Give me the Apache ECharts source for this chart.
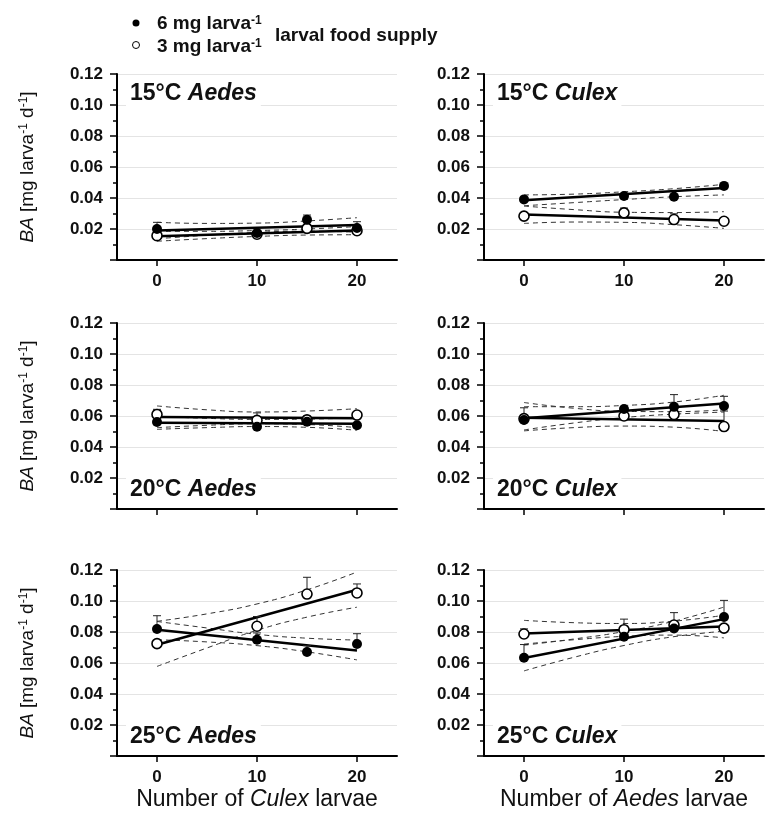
<!DOCTYPE html>
<html>
<head>
<meta charset="utf-8">
<title>BA vs larval density</title>
<script src="https://cdn.jsdelivr.net/npm/echarts@6/dist/echarts.min.js"></script>
<style>
  html, body { margin: 0; padding: 0; background: #fff; }
  #chart { width: 765px; height: 823px; }
</style>
</head>
<body>
<div id="chart"></div>
<script>
// densities where the means were measured, and where fits / bands are drawn
const densities = [0, 10, 15, 20];
const fitX = [0, 20];
const bandX = [0, 5, 10, 15, 20];
const xTicks = [0, 10, 20];

// panel order: 15°C Aedes, 15°C Culex, 20°C Aedes, 20°C Culex, 25°C Aedes, 25°C Culex
const panelTemp = ['15°C', '15°C', '20°C', '20°C', '25°C', '25°C'];
const panelSpecies = ['Aedes', 'Culex', 'Aedes', 'Culex', 'Aedes', 'Culex'];

// 6 mg larva-1 (filled circles)
const mean6 = [
  [0.0200, 0.0174, 0.0260, 0.0207],
  [0.0391, 0.0413, 0.0408, 0.0478],
  [0.0561, 0.0531, 0.0563, 0.0540],
  [0.0574, 0.0645, 0.0659, 0.0664],
  [0.0819, 0.0750, 0.0671, 0.0723],
  [0.0634, 0.0770, 0.0823, 0.0897]
];
const errTop6 = [
  [0.0243, null, 0.0290, 0.0247],
  [null, null, null, null],
  [null, null, 0.0600, null],
  [0.0653, null, 0.0738, 0.0727],
  [0.0905, 0.0794, 0.0712, 0.0789],
  [0.0719, null, null, 0.1004]
];
const fit6 = [
  [0.0190, 0.0226],
  [0.0385, 0.0465],
  [0.0557, 0.0550],
  [0.0585, 0.0680],
  [0.0815, 0.0680],
  [0.0632, 0.0883]
];
const bandHi6 = [
  [0.0243, 0.0236, 0.0238, 0.0252, 0.0273],
  [0.0420, 0.0425, 0.0440, 0.0460, 0.0488],
  [0.0598, 0.0585, 0.0578, 0.0580, 0.0588],
  [0.0660, 0.0660, 0.0668, 0.0690, 0.0734],
  [0.0868, 0.0826, 0.0785, 0.0760, 0.0748],
  [0.0715, 0.0755, 0.0803, 0.0870, 0.0961]
];
const bandLo6 = [
  [0.0137, 0.0160, 0.0178, 0.0186, 0.0179],
  [0.0350, 0.0370, 0.0390, 0.0408, 0.0420],
  [0.0514, 0.0525, 0.0532, 0.0527, 0.0508],
  [0.0510, 0.0555, 0.0590, 0.0612, 0.0625],
  [0.0750, 0.0736, 0.0712, 0.0672, 0.0620],
  [0.0549, 0.0637, 0.0713, 0.0770, 0.0805]
];

// 3 mg larva-1 (open circles)
const mean3 = [
  [0.0157, 0.0166, 0.0204, 0.0189],
  [0.0283, 0.0304, 0.0261, 0.0250],
  [0.0610, 0.0572, 0.0575, 0.0606],
  [0.0583, 0.0600, 0.0610, 0.0532],
  [0.0725, 0.0837, 0.1045, 0.1052],
  [0.0787, 0.0815, 0.0845, 0.0825]
];
const errTop3 = [
  [null, null, null, null],
  [null, 0.0335, 0.0298, null],
  [0.0643, 0.0620, null, null],
  [null, null, null, 0.0632],
  [null, 0.0900, 0.1153, 0.1110],
  [0.0820, 0.0883, 0.0925, null]
];
const fit3 = [
  [0.0153, 0.0190],
  [0.0294, 0.0255],
  [0.0594, 0.0585],
  [0.0589, 0.0568],
  [0.0718, 0.1073],
  [0.0791, 0.0836]
];
const bandHi3 = [
  [0.0185, 0.0185, 0.0190, 0.0200, 0.0216],
  [0.0348, 0.0325, 0.0308, 0.0306, 0.0312],
  [0.0665, 0.0640, 0.0626, 0.0632, 0.0647],
  [0.0687, 0.0650, 0.0630, 0.0628, 0.0640],
  [0.0869, 0.0917, 0.0981, 0.1072, 0.1187],
  [0.0875, 0.0860, 0.0855, 0.0870, 0.0908]
];
const bandLo3 = [
  [0.0121, 0.0138, 0.0152, 0.0161, 0.0163],
  [0.0236, 0.0245, 0.0243, 0.0228, 0.0204],
  [0.0525, 0.0540, 0.0550, 0.0545, 0.0525],
  [0.0504, 0.0525, 0.0535, 0.0528, 0.0500],
  [0.0578, 0.0697, 0.0811, 0.0896, 0.0960],
  [0.0722, 0.0750, 0.0772, 0.0780, 0.0762]
];

const font = "'Liberation Sans', Arial, Helvetica, sans-serif";
const gridLeft = [117, 484];
const gridTop = [74, 323, 570];
const gridW = 280;
const gridH = 186;

function pairs(xs, ys) {
  return xs.map((x, k) => [x, ys[k]]);
}

function errData(means, tops) {
  return densities
    .map((x, k) => (tops[k] == null ? null : [x, means[k], tops[k]]))
    .filter(Boolean);
}

// upward error bar with a small cap
function errorBarItem(params, api) {
  const base = api.coord([api.value(0), api.value(1)]);
  const top = api.coord([api.value(0), api.value(2)]);
  const style = { stroke: '#222', lineWidth: 1 };
  return {
    type: 'group',
    children: [
      { type: 'line', shape: { x1: base[0], y1: base[1], x2: top[0], y2: top[1] }, style: style },
      { type: 'line', shape: { x1: top[0] - 4, y1: top[1], x2: top[0] + 4, y2: top[1] }, style: style }
    ]
  };
}

const grids = [], xAxes = [], yAxes = [], titles = [], series = [];

for (let i = 0; i < 6; i++) {
  const row = Math.floor(i / 2);
  const col = i % 2;
  grids.push({ left: gridLeft[col], top: gridTop[row], width: gridW, height: gridH });

  xAxes.push({
    gridIndex: i,
    type: 'value',
    min: -4,
    max: 24,
    axisLine: { onZero: false, lineStyle: { color: '#000', width: 2 } },
    axisTick: { customValues: xTicks, length: 6, lineStyle: { color: '#000', width: 1.5 } },
    axisLabel: {
      show: row !== 1,
      customValues: xTicks,
      margin: 13,
      fontSize: 17,
      fontWeight: 'bold',
      fontFamily: font,
      color: '#111'
    },
    splitLine: { show: false },
    name: row === 2 ? (col === 0 ? 'Number of {i|Culex} larvae' : 'Number of {i|Aedes} larvae') : '',
    nameLocation: 'middle',
    nameGap: 32,
    nameTextStyle: {
      fontSize: 23,
      fontFamily: font,
      color: '#111',
      rich: { i: { fontSize: 23, fontStyle: 'italic', fontFamily: font, color: '#111' } }
    }
  });

  yAxes.push({
    gridIndex: i,
    type: 'value',
    min: 0,
    max: 0.12,
    interval: 0.02,
    axisLine: { show: true, onZero: false, lineStyle: { color: '#000', width: 2 } },
    axisTick: { show: true, length: 7, lineStyle: { color: '#000', width: 1.5 } },
    minorTick: { show: true, splitNumber: 2, length: 4, lineStyle: { color: '#000', width: 1.5 } },
    axisLabel: {
      margin: 14,
      fontSize: 17,
      fontWeight: 'bold',
      fontFamily: font,
      color: '#111',
      formatter: v => (v === 0 ? '' : v.toFixed(2))
    },
    splitLine: { show: true, lineStyle: { color: '#e4e4e4', width: 1 } },
    name: col === 0 ? '{i|BA} [mg larva{s|-1} d{s|-1}]' : '',
    nameLocation: 'middle',
    nameRotate: 90,
    nameGap: 80,
    nameTextStyle: {
      fontSize: 19,
      fontFamily: font,
      color: '#111',
      rich: {
        i: { fontSize: 19, fontStyle: 'italic', fontFamily: font, color: '#111' },
        s: { fontSize: 12, verticalAlign: 'top', fontFamily: font, color: '#111' }
      }
    }
  });

  // panel label: top-left for 15°C, bottom-left for the others
  const titleCenterY = row === 0 ? gridTop[row] + 21 : gridTop[row] + gridH - 18;
  titles.push({
    text: panelTemp[i] + ' {i|' + panelSpecies[i] + '}',
    left: gridLeft[col] + 9,
    top: titleCenterY - 15,
    padding: [2, 4],
    backgroundColor: '#fff',
    textStyle: {
      fontSize: 23,
      fontWeight: 'bold',
      fontFamily: font,
      color: '#111',
      rich: { i: { fontSize: 23, fontWeight: 'bold', fontStyle: 'italic', fontFamily: font, color: '#111' } }
    }
  });

  const bands = [bandHi6[i], bandLo6[i], bandHi3[i], bandLo3[i]];
  bands.forEach(b => {
    series.push({
      type: 'line',
      xAxisIndex: i,
      yAxisIndex: i,
      data: pairs(bandX, b),
      smooth: true,
      symbol: 'none',
      z: 2,
      lineStyle: { color: '#333', width: 1, type: [5, 4] }
    });
  });

  [fit6[i], fit3[i]].forEach(f => {
    series.push({
      type: 'line',
      xAxisIndex: i,
      yAxisIndex: i,
      data: pairs(fitX, f),
      symbol: 'none',
      z: 3,
      lineStyle: { color: '#000', width: 2.5 }
    });
  });

  series.push({
    type: 'custom',
    xAxisIndex: i,
    yAxisIndex: i,
    renderItem: errorBarItem,
    data: errData(mean6[i], errTop6[i]).concat(errData(mean3[i], errTop3[i])),
    z: 4
  });

  series.push({
    type: 'scatter',
    xAxisIndex: i,
    yAxisIndex: i,
    data: pairs(densities, mean3[i]),
    symbolSize: 10,
    z: 5,
    itemStyle: { color: '#fff', borderColor: '#000', borderWidth: 1.6, opacity: 1 }
  });
  series.push({
    type: 'scatter',
    xAxisIndex: i,
    yAxisIndex: i,
    data: pairs(densities, mean6[i]),
    symbolSize: 10,
    z: 6,
    itemStyle: { color: '#000', opacity: 1 }
  });
}

const legendRich = {
  b: { fontSize: 19, fontWeight: 'bold', fontFamily: font, fill: '#111' },
  s: { fontSize: 12, fontWeight: 'bold', fontFamily: font, fill: '#111', verticalAlign: 'top' }
};

const chart = echarts.init(document.getElementById('chart'));
chart.setOption({
  animation: false,
  backgroundColor: '#fff',
  title: titles,
  grid: grids,
  xAxis: xAxes,
  yAxis: yAxes,
  series: series,
  graphic: [
    { type: 'circle', shape: { cx: 136, cy: 23, r: 3.5 }, style: { fill: '#000' } },
    { type: 'circle', shape: { cx: 136, cy: 45, r: 3.5 }, style: { fill: '#fff', stroke: '#000', lineWidth: 1 } },
    { type: 'text', style: { x: 157, y: 24, verticalAlign: 'middle', text: '{b|6 mg larva}{s|-1}', rich: legendRich } },
    { type: 'text', style: { x: 157, y: 47, verticalAlign: 'middle', text: '{b|3 mg larva}{s|-1}', rich: legendRich } },
    { type: 'text', style: { x: 275, y: 36, verticalAlign: 'middle', text: '{b|larval food supply}', rich: legendRich } }
  ]
});
</script>
</body>
</html>
